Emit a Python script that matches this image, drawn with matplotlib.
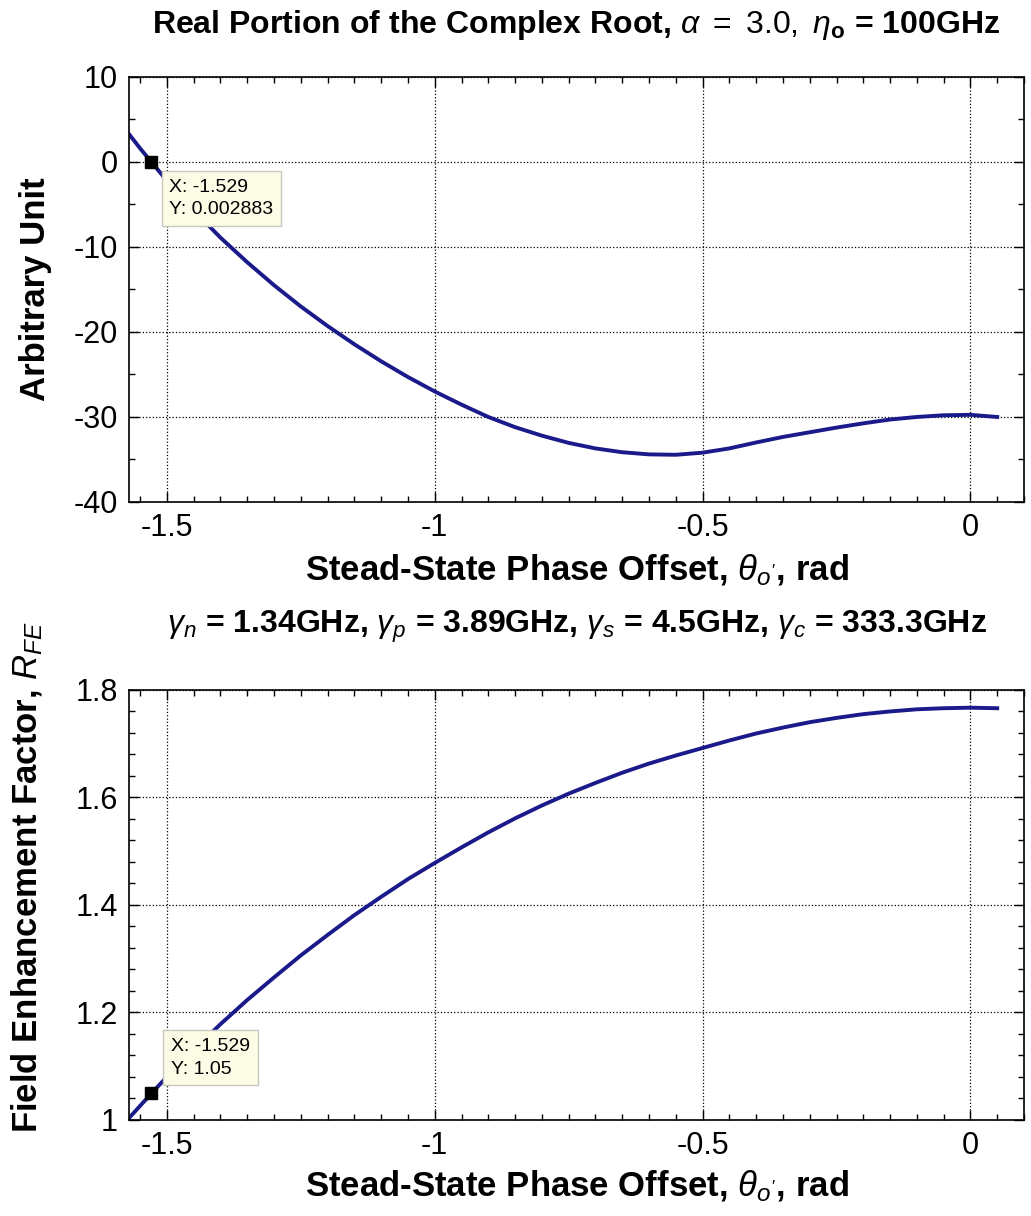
import numpy as np
import matplotlib
matplotlib.use('Agg')
from matplotlib import pyplot as plt
from matplotlib.ticker import MultipleLocator

plt.rcParams['font.family'] = ['Liberation Sans', 'DejaVu Sans']
plt.rcParams['mathtext.fontset'] = 'custom'
plt.rcParams['mathtext.rm'] = 'Liberation Sans'
plt.rcParams['mathtext.it'] = 'Liberation Sans:italic'
plt.rcParams['mathtext.bf'] = 'Liberation Sans:bold'

# phase offset (rad)
theta_top = [-1.571, -1.55, -1.529, -1.50, -1.45, -1.40, -1.35, -1.30, -1.25, -1.20,
             -1.15, -1.10, -1.05, -1.00, -0.95, -0.90, -0.85, -0.80, -0.75, -0.70,
             -0.65, -0.60, -0.55, -0.50, -0.45, -0.40, -0.35, -0.30, -0.25, -0.20,
             -0.15, -0.10, -0.05, 0.00, 0.05]
# real part of complex root
real_root = [3.3, 1.6, 0.0, -2.2, -5.7, -8.9, -11.8, -14.5, -17.0, -19.3,
             -21.45, -23.45, -25.3, -27.0, -28.55, -30.0, -31.2, -32.2, -33.05, -33.7,
             -34.15, -34.4, -34.45, -34.2, -33.7, -33.0, -32.35, -31.8, -31.25, -30.75,
             -30.3, -30.0, -29.8, -29.75, -30.0]

theta_bot = [-1.571, -1.55, -1.529, -1.50, -1.45, -1.40, -1.35, -1.30, -1.25, -1.20,
             -1.15, -1.10, -1.05, -1.00, -0.95, -0.90, -0.85, -0.80, -0.75, -0.70,
             -0.65, -0.60, -0.55, -0.50, -0.45, -0.40, -0.35, -0.30, -0.25, -0.20,
             -0.15, -0.10, -0.05, 0.00, 0.05]
# field enhancement factor
r_fe = [1.003, 1.026, 1.049, 1.080, 1.130, 1.178, 1.223, 1.265, 1.306, 1.344,
        1.381, 1.415, 1.448, 1.478, 1.507, 1.535, 1.561, 1.585, 1.607, 1.627,
        1.646, 1.663, 1.678, 1.692, 1.706, 1.719, 1.730, 1.740, 1.748, 1.755,
        1.760, 1.764, 1.766, 1.767, 1.766]

# data tips
tip_x = -1.529
tip_top_y = 0.002883
tip_bot_y = 1.05

xticks = [-1.5, -1, -0.5, 0]
xtick_labels = ['-1.5', '-1', '-0.5', '0']
yticks_top = [10, 0, -10, -20, -30, -40]
yticks_top_labels = ['10', '0', '-10', '-20', '-30', '-40']
yticks_bot = [1, 1.2, 1.4, 1.6, 1.8]
yticks_bot_labels = ['1', '1.2', '1.4', '1.6', '1.8']

line_color = '#1a1a8a'

fig = plt.figure(figsize=(10.31, 12.16), dpi=100)
ax1 = fig.add_axes([0.1251, 0.5872, 0.8681, 0.3495])
ax2 = fig.add_axes([0.1251, 0.0791, 0.8681, 0.3535])


def style_axes(ax):
    ax.set_xlim(-np.pi / 2, 0.1)
    ax.set_xticks(xticks)
    ax.set_xticklabels(xtick_labels)
    ax.xaxis.set_minor_locator(MultipleLocator(0.05))
    ax.grid(True, which='major', linestyle=':', color='black', linewidth=0.9)
    ax.tick_params(which='both', direction='in', top=True, right=True,
                   labelsize=22, width=1.0)
    ax.tick_params(which='major', length=7, pad=8)
    ax.tick_params(which='minor', length=4)
    for s in ax.spines.values():
        s.set_linewidth(1.2)


def data_tip(ax, x, y, text, below=True):
    ax.plot([x], [y], marker='s', color='black', markersize=9, zorder=5)
    if below:
        off, va = (13, -12), 'top'
    else:
        off, va = (14, 11), 'bottom'
    ax.annotate(text, xy=(x, y), xytext=off, textcoords='offset points',
                ha='left', va=va, fontsize=14, linespacing=1.45,
                bbox=dict(boxstyle='square,pad=0.4', fc='#fbfbe6', ec='#c8c8c0', lw=1),
                zorder=6)


# top panel
ax1.plot(theta_top, real_root, color=line_color, linewidth=2.8)
style_axes(ax1)
ax1.set_ylim(-40, 10)
ax1.set_yticks(yticks_top)
ax1.set_yticklabels(yticks_top_labels)
ax1.yaxis.set_minor_locator(MultipleLocator(5))
data_tip(ax1, tip_x, tip_top_y, 'X: -1.529\nY: 0.002883', below=True)
ax1.set_title(r'Real Portion of the Complex Root, $\alpha\ \mathrm{=\ 3.0,}$ $\eta_{\mathbf{o}}$ = 100GHz',
              fontsize=23, fontweight='bold', pad=32)
ax1.set_xlabel(r"Stead-State Phase Offset, $\theta_{o'}$, rad", fontsize=25, fontweight='bold')
ax1.set_ylabel('Arbitrary Unit', fontsize=25, fontweight='bold')
ax1.yaxis.set_label_coords(-0.086, 0.5)
ax1.xaxis.set_label_coords(0.5, -0.118)

# bottom panel
ax2.plot(theta_bot, r_fe, color=line_color, linewidth=2.8)
style_axes(ax2)
ax2.set_ylim(1, 1.8)
ax2.set_yticks(yticks_bot)
ax2.set_yticklabels(yticks_bot_labels)
ax2.yaxis.set_minor_locator(MultipleLocator(0.04))
data_tip(ax2, tip_x, tip_bot_y, 'X: -1.529\nY: 1.05', below=False)
ax2.set_title(r'$\gamma_n$ = 1.34GHz, $\gamma_p$ = 3.89GHz, $\gamma_s$ = 4.5GHz, $\gamma_c$ = 333.3GHz',
              fontsize=23, fontweight='bold', pad=41)
ax2.set_xlabel(r"Stead-State Phase Offset, $\theta_{o'}$, rad", fontsize=25, fontweight='bold')
ax2.set_ylabel(r'Field Enhancement Factor, $R_{FE}$', fontsize=25, fontweight='bold')
ax2.yaxis.set_label_coords(-0.094, 0.565)
ax2.xaxis.set_label_coords(0.5, -0.114)

fig.savefig('out.png', dpi=100)
